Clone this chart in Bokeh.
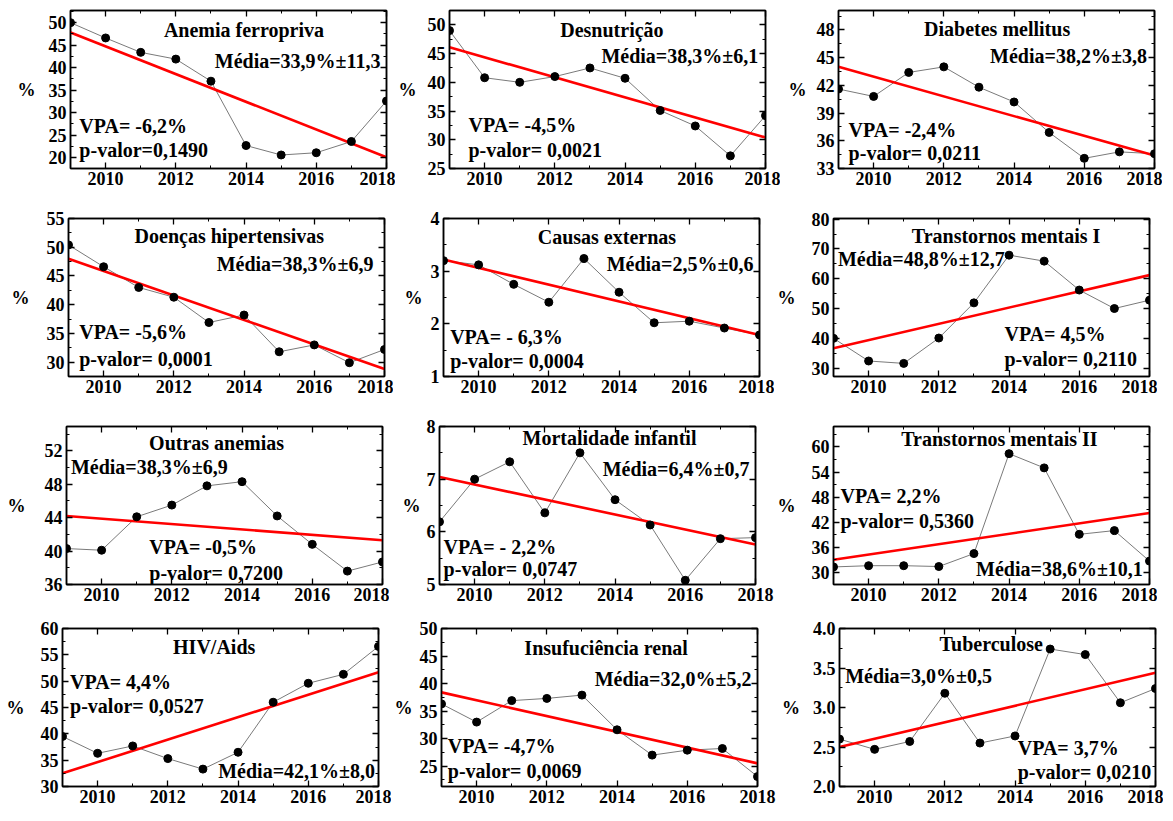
from bokeh.plotting import figure
from bokeh.layouts import column, row
from bokeh.models import Label, LinearAxis, SingleIntervalTicker, NumeralTickFormatter, Range1d
from bokeh.embed import file_html
from bokeh.resources import INLINE

# ---------------- data ----------------
years = [2009, 2010, 2011, 2012, 2013, 2014, 2015, 2016, 2017, 2018]

titles = ["Anemia ferropriva", "Desnutrição", "Diabetes mellitus",
          "Doenças hipertensivas", "Causas externas", "Transtornos mentais I",
          "Outras anemias", "Mortalidade infantil", "Transtornos mentais II",
          "HIV/Aids", "Insufuciência renal", "Tuberculose"]

anemia_ferropriva = [50.0, 46.6, 43.4, 41.9, 37.0, 22.7, 20.6, 21.1, 23.6, 32.6]
desnutricao = [49.0, 40.8, 40.0, 41.0, 42.5, 40.7, 35.1, 32.4, 27.2, 34.2]
diabetes_mellitus = [41.6, 40.8, 43.4, 44.0, 41.8, 40.2, 36.9, 34.1, 34.8, 34.6]
doencas_hipertensivas = [50.4, 46.6, 43.0, 41.3, 36.9, 38.2, 31.8, 33.0, 29.9, 32.2]
causas_externas = [3.20, 3.12, 2.75, 2.41, 3.24, 2.60, 2.02, 2.05, 1.92, 1.79]
transtornos_mentais_1 = [40.0, 32.4, 31.6, 40.1, 51.9, 67.9, 65.9, 56.2, 50.0, 52.8]
outras_anemias = [40.3, 40.1, 44.1, 45.5, 47.8, 48.3, 44.2, 40.8, 37.6, 38.7]
mortalidade_infantil = [6.19, 7.00, 7.33, 6.36, 7.50, 6.61, 6.13, 5.08, 5.87, 5.89]
transtornos_mentais_2 = [31.3, 31.6, 31.6, 31.4, 34.5, 58.4, 55.0, 39.1, 40.0, 32.7]
hiv_aids = [39.5, 36.3, 37.7, 35.3, 33.3, 36.5, 46.0, 49.6, 51.3, 56.6]
insuficiencia_renal = [36.3, 33.0, 36.9, 37.3, 37.9, 31.6, 27.0, 27.9, 28.2, 23.1]
tuberculose = [2.60, 2.47, 2.57, 3.18, 2.55, 2.64, 3.74, 3.67, 3.06, 3.24]

series = [anemia_ferropriva, desnutricao, diabetes_mellitus,
          doencas_hipertensivas, causas_externas, transtornos_mentais_1,
          outras_anemias, mortalidade_infantil, transtornos_mentais_2,
          hiv_aids, insuficiencia_renal, tuberculose]

# fitted trend (value at 2009 and at 2018)
trend_2009 = [47.8, 46.1, 44.0, 48.0, 3.22, 36.7, 44.2, 7.04, 33.0, 32.5, 38.4, 2.50]
trend_2018 = [20.1, 30.4, 34.4, 28.8, 1.79, 61.2, 41.3, 5.76, 44.2, 51.7, 25.5, 3.44]

media_labels = ["Média=33,9%±11,3", "Média=38,3%±6,1", "Média=38,2%±3,8",
                "Média=38,3%±6,9", "Média=2,5%±0,6", "Média=48,8%±12,7",
                "Média=38,3%±6,9", "Média=6,4%±0,7", "Média=38,6%±10,1",
                "Média=42,1%±8,0", "Média=32,0%±5,2", "Média=3,0%±0,5"]
vpa_labels = ["VPA= -6,2%", "VPA= -4,5%", "VPA= -2,4%", "VPA= -5,6%",
              "VPA= - 6,3%", "VPA= 4,5%", "VPA= -0,5%", "VPA= - 2,2%",
              "VPA= 2,2%", "VPA=  4,4%", "VPA= -4,7%", "VPA=  3,7%"]
pvalor_labels = ["p-valor=0,1490", "p-valor= 0,0021", "p-valor= 0,0211",
                 "p-valor= 0,0001", "p-valor= 0,0004", "p-valor= 0,2110",
                 "p-valor= 0,7200", "p-valor= 0,0747", "p-valor= 0,5360",
                 "p-valor= 0,0527", "p-valor= 0,0069", "p-valor= 0,0210"]

# axis settings
y_limits = [(17.6, 52.7), (25, 52.5), (33, 50.1), (27.5, 55), (1, 4), (27.2, 80.2),
            (36, 54.9), (5, 8), (27.1, 64.9), (30, 60), (21.3, 50), (2, 4)]
y_tick_step = [5, 5, 3, 5, 1, 10, 4, 1, 6, 5, 5, 0.5]
y_tick_format = [None] * 11 + ["0.0"]

# ---------------- layout / style ----------------
# text positions as fractions of the frame (fx from left, fy from top)
title_pos = [(0.549, 0.122), (0.514, 0.122), (0.502, 0.118), (0.509, 0.111),
             (0.517, 0.12), (0.546, 0.109), (0.475, 0.106), (0.538, 0.07),
             (0.525, 0.08), (0.48, 0.116), (0.521, 0.126), (0.48, 0.098)]
media_pos = [(0.981, 0.32, "right"), (0.977, 0.286, "right"), (0.976, 0.29, "right"),
             (0.965, 0.286, "right"), (0.981, 0.288, "right"), (0.014, 0.256, "left"),
             (0.014, 0.258, "left"), (0.981, 0.27, "right"), (0.979, 0.901, "right"),
             (0.989, 0.905, "right"), (0.981, 0.32, "right"), (0.018, 0.302, "left")]
vpa_pos = [(0.028, 0.733), (0.060, 0.722), (0.032, 0.754), (0.034, 0.72),
           (0.021, 0.752), (0.541, 0.734), (0.262, 0.765), (0.013, 0.761),
           (0.022, 0.442), (0.024, 0.337), (0.020, 0.743), (0.564, 0.758)]
pval_pos = [(0.028, 0.884), (0.060, 0.88), (0.032, 0.90), (0.034, 0.889),
            (0.021, 0.9), (0.541, 0.891), (0.262, 0.926), (0.013, 0.905),
            (0.022, 0.6), (0.024, 0.49), (0.020, 0.905), (0.564, 0.91)]
pct_standoff = [10, 8, 7, 14, 5, 13, 16, 3, 13, 13, 4, 10]

FONT = "Liberation Serif"
TXT = "20px"
TICK = "18px"
FW, FH = 316, 158
# page x of each frame's left edge
frame_left = [70, 445, 834, 68, 443, 832, 66, 439, 832, 62, 441, 836]
# per row: top border and bottom border (frames in a row share them)
row_top = [10, 22, 21, 18]
row_bottom = [28, 29, 26, 26]
col_left_border = [None, 50, 58]
last_right_border = 8


def style_axis(ax, hidden=False):
    ax.axis_line_color = "black"
    ax.axis_line_width = 1.5
    ax.major_tick_line_color = "black"
    ax.minor_tick_line_color = "black"
    ax.major_tick_line_width = 1.3
    ax.minor_tick_line_width = 1.0
    ax.major_tick_in = 6
    ax.major_tick_out = 0
    ax.minor_tick_in = 3
    ax.minor_tick_out = 0
    if hidden:
        ax.major_label_text_font_size = "1px"
        ax.major_label_text_color = None
        ax.major_label_text_alpha = 0
        ax.major_label_standoff = 0
    else:
        ax.major_label_text_font = FONT
        ax.major_label_text_font_style = "bold"
        ax.major_label_text_font_size = TICK
        ax.major_label_text_color = "black"
        ax.major_label_standoff = 4


def add_text(p, i, fx, fy, text, align):
    lo, hi = y_limits[i]
    x = years[0] + fx * (years[-1] - years[0])
    y = hi - fy * (hi - lo)
    p.add_layout(Label(x=x, y=y, text=text, text_font=FONT, text_font_style="bold",
                       text_font_size=TXT, text_color="black",
                       text_align=align, text_baseline="middle"))


def borders(i):
    r, c = divmod(i, 3)
    starts = [0]
    for cc in (1, 2):
        starts.append(frame_left[r * 3 + cc] - col_left_border[cc])
    ends = starts[1:] + [frame_left[r * 3 + 2] + FW + last_right_border]
    left = frame_left[i] - starts[c]
    right = ends[c] - (frame_left[i] + FW)
    return left, right, row_top[r], row_bottom[r]


def make_panel(i):
    lo, hi = y_limits[i]
    x0, x1 = years[0], years[-1]
    bl, br, bt, bb = borders(i)
    p = figure(frame_width=FW, frame_height=FH,
               x_range=Range1d(x0, x1), y_range=Range1d(lo, hi),
               min_border_left=bl, min_border_right=br,
               min_border_top=bt, min_border_bottom=bb,
               output_backend="svg", toolbar_location=None)
    p.title = None
    p.xgrid.visible = False
    p.ygrid.visible = False
    p.outline_line_color = "black"
    p.outline_line_width = 1.5
    p.background_fill_color = "white"
    p.border_fill_color = "white"

    step = y_tick_step[i]
    p.xaxis.ticker = SingleIntervalTicker(interval=2, num_minor_ticks=2)
    p.yaxis.ticker = SingleIntervalTicker(interval=step, num_minor_ticks=2)
    if y_tick_format[i]:
        p.yaxis.formatter = NumeralTickFormatter(format=y_tick_format[i])
    for ax in list(p.xaxis) + list(p.yaxis):
        style_axis(ax)
    p.xaxis.major_label_standoff = 3
    p.yaxis.axis_label = "%"
    p.yaxis.axis_label_orientation = "horizontal"
    p.yaxis.axis_label_text_font = FONT
    p.yaxis.axis_label_text_font_style = "bold"
    p.yaxis.axis_label_text_font_size = "18px"
    p.yaxis.axis_label_text_color = "black"
    p.yaxis.axis_label_standoff = pct_standoff[i]

    ax_r = LinearAxis(ticker=SingleIntervalTicker(interval=step, num_minor_ticks=2))
    style_axis(ax_r, hidden=True)
    p.add_layout(ax_r, "right")
    ax_t = LinearAxis(ticker=SingleIntervalTicker(interval=2, num_minor_ticks=2))
    style_axis(ax_t, hidden=True)
    p.add_layout(ax_t, "above")

    vals = series[i]
    p.line(years, vals, line_color="#7a7a7a", line_width=1)
    p.line([x0, x1], [trend_2009[i], trend_2018[i]],
           line_color="#ff0000", line_width=2.6)
    p.scatter(years, vals, size=8, fill_color="black", line_color="black")

    tx, ty = title_pos[i]
    add_text(p, i, tx, ty, titles[i], "center")
    mx, my, ma = media_pos[i]
    add_text(p, i, mx, my, media_labels[i], ma)
    vx, vy = vpa_pos[i]
    add_text(p, i, vx, vy, vpa_labels[i], "left")
    px, py = pval_pos[i]
    add_text(p, i, px, py, pvalor_labels[i], "left")
    return p


panels = [make_panel(i) for i in range(12)]
layout = column(*[row(*panels[r * 3:(r + 1) * 3]) for r in range(4)])

open("out.html", "w").write(file_html(layout, INLINE))
